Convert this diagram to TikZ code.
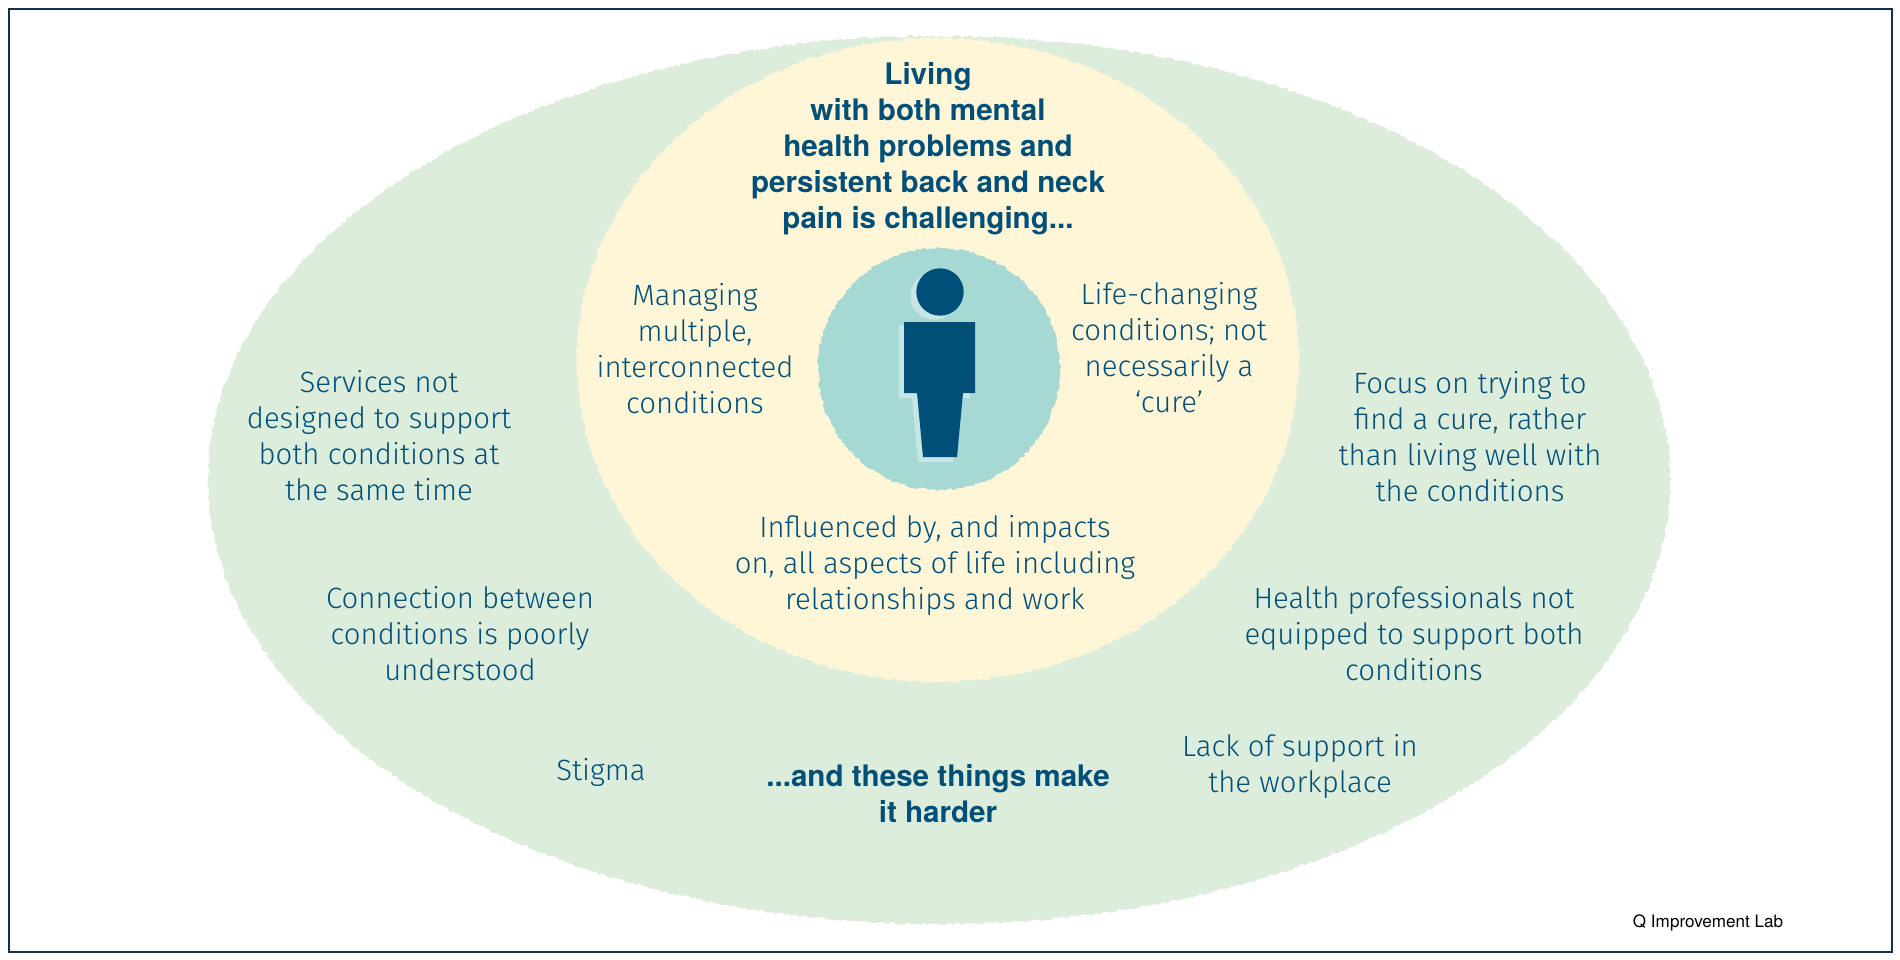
\documentclass[tikz,border=0pt]{standalone}
\usepackage{fontspec}
\setmainfont{TeX Gyre Heros}
\newfontfamily\lightfont{Fira Sans Light}
\usetikzlibrary{decorations.pathmorphing}
\definecolor{inkblue}{HTML}{004F78}
\definecolor{framecol}{HTML}{12304A}
\definecolor{greenbg}{HTML}{DCEDDC}
\definecolor{yellowbg}{HTML}{FFF6D8}
\definecolor{tealbg}{HTML}{A6D8D4}
\definecolor{shadowcol}{HTML}{C5E6E5}
\tikzset{
  x=0.75pt,y=-0.75pt,
  rough/.style={decorate,decoration={random steps,segment length=2pt,amplitude=1pt}},
  txt/.style={align=center,text=inkblue,font=\lightfont\fontsize{22}{27}\selectfont,inner sep=0pt},
  boldtxt/.style={align=center,text=inkblue,inner sep=0pt,font=\fontsize{22.2}{27}\selectfont\bfseries},
}
\begin{document}
\begin{tikzpicture}
\pgfmathsetseed{7}
\useasboundingbox (0,0) rectangle (1900,960);
\fill[white] (0,0) rectangle (1900,960);
\draw[framecol,line width=1.5pt] (8.5,8.5) rectangle (1892,951.5);
\fill[greenbg,rough] (939,480) ellipse [x radius=731,y radius=444];
\fill[yellowbg,rough] (938,360) ellipse [x radius=361,y radius=322];
\fill[tealbg,rough] (939,369) circle [radius=121];
\fill[shadowcol] (934,296) circle [radius=23.7];
\fill[shadowcol] (899,325) -- (970,325) -- (970,398) -- (958,398) -- (953,462) -- (918,462) -- (912,398) -- (899,398) -- cycle;
\fill[inkblue] (940,292) circle [radius=23.7];
\fill[inkblue] (904,322) -- (975,322) -- (975,393) -- (963,393) -- (957,457) -- (923,457) -- (917,393) -- (904,393) -- cycle;
\node[boldtxt] (title) at (928,149) {Living\\with both mental\\health problems and\\persistent back and neck\\pain is challenging...};
\node[txt] (managing) at (695,349) {Managing\\multiple,\\interconnected\\conditions};
\node[txt] (lifechanging) at (1169,348) {Life-changing\\conditions; not\\necessarily a\\‘cure’};
\node[txt] (services) at (379,436) {Services not\\designed to support\\both conditions at\\the same time};
\node[txt] (focus) at (1470,437) {Focus on trying to\\find a cure, rather\\than living well with\\the conditions};
\node[txt] (connection) at (460,634) {Connection between\\conditions is poorly\\understood};
\node[txt] (health) at (1414,634) {Health professionals not\\equipped to support both\\conditions};
\node[txt] (influenced) at (935,565) {Influenced by, and impacts\\on, all aspects of life including\\relationships and work};
\node[txt] (stigma) at (601,772) {Stigma};
\node[txt] (lack) at (1300,766) {Lack of support in\\the workplace};
\node[boldtxt] (harder) at (938,794) {...and these things make\\it harder};
\node[inner sep=0pt,text=black,font=\fontsize{12.8}{14}\selectfont] (credit) at (1708,923) {Q Improvement Lab};
\end{tikzpicture}
\end{document}
